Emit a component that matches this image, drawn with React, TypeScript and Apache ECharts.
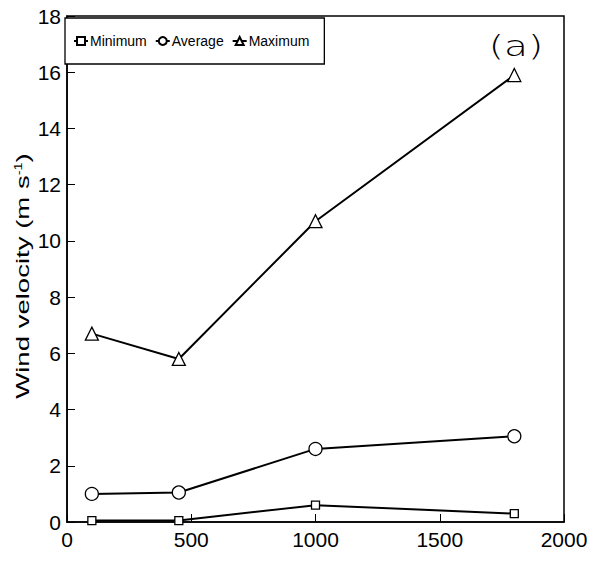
import React, { useEffect, useRef } from "react";
import * as echarts from "echarts";

const elevations = [100, 450, 1000, 1800];
const minimum = [0.05, 0.05, 0.6, 0.3];
const average = [1.0, 1.05, 2.6, 3.05];
const maximum = [6.7, 5.8, 10.7, 15.9];
const xTicks = [0, 500, 1000, 1500, 2000];
const yTicks = [0, 2, 4, 6, 8, 10, 12, 14, 16, 18];
const yTitle = "Wind velocity (m s{sup|-1})";
const panelLabel = "(a)";

const pair = (ys: number[]) => elevations.map((x, i) => [x, ys[i]]);

export default function App() {
  const ref = useRef<HTMLDivElement>(null);
  useEffect(() => {
    const chart = echarts.init(ref.current!, undefined, { renderer: "svg" });
    const font = "Liberation Sans, Arial, sans-serif";
    const common = {
      type: "line",
      lineStyle: { color: "#000", width: 2 },
      itemStyle: { color: "#fff", borderColor: "#000", borderWidth: 1.3 },
      showSymbol: true,
      z: 3,
    };
    chart.setOption({
      animation: false,
      backgroundColor: "#fff",
      grid: { left: 67, right: 35, top: 16, bottom: 40, show: true, borderColor: "#000", borderWidth: 1.5 },
      legend: {
        left: 65,
        top: 18,
        padding: [16, 15, 16, 8],
        itemGap: 8,
        itemWidth: 14,
        itemHeight: 10,
        borderColor: "#000",
        borderWidth: 1.3,
        backgroundColor: "#fff",
        textStyle: { fontFamily: font, fontSize: 14, color: "#000", padding: [0, 0, 0, -3] },
        data: ["Minimum", "Average", "Maximum"],
      },
      graphic: [
        {
          type: "text",
          x: 516,
          y: 46,
          scaleX: 1.35,
          style: {
            text: panelLabel,
            fontFamily: "DejaVu Sans, sans-serif",
            fontSize: 29,
            fontWeight: 200,
            fill: "#000",
            align: "center",
            verticalAlign: "middle",
          },
        },
        {
          type: "text",
          x: 23,
          y: 276,
          rotation: Math.PI / 2,
          scaleX: 1.45,
          style: {
            text: yTitle,
            fontFamily: font,
            fontSize: 19,
            fill: "#000",
            align: "center",
            verticalAlign: "middle",
            rich: {
              sup: { fontFamily: font, fontSize: 10, fill: "#000", verticalAlign: "top", padding: [0, 0, 8, 0] },
            },
          },
        },
      ],
      xAxis: {
        type: "value",
        min: 0,
        max: 2000,
        interval: 500,
        axisLine: { show: true, lineStyle: { color: "#000", width: 1.5 } },
        axisTick: { show: true, inside: true, length: 8, lineStyle: { color: "#000" } },
        splitLine: { show: false },
        axisLabel: {
          color: "#000",
          fontFamily: font,
          fontSize: 21,
          margin: 7,
          formatter: (v: number) => (xTicks.includes(v) ? String(v) : ""),
        },
      },
      yAxis: {
        type: "value",
        min: 0,
        max: 18,
        interval: 2,
        axisLine: { show: true, lineStyle: { color: "#000", width: 1.5 } },
        axisTick: { show: true, inside: true, length: 8, lineStyle: { color: "#000" } },
        splitLine: { show: false },
        axisLabel: {
          color: "#000",
          fontFamily: font,
          fontSize: 21,
          margin: 6,
          formatter: (v: number) => (yTicks.includes(v) ? String(v) : ""),
        },
      },
      series: [
        { ...common, name: "Minimum", data: pair(minimum), symbol: "rect", symbolSize: 8 },
        { ...common, name: "Average", data: pair(average), symbol: "circle", symbolSize: 13 },
        { ...common, name: "Maximum", data: pair(maximum), symbol: "triangle", symbolSize: 13 },
      ],
    });
    return () => chart.dispose();
  }, []);
  return <div ref={ref} style={{ width: 599, height: 562, position: "absolute", left: 0, top: 0 }} />;
}
